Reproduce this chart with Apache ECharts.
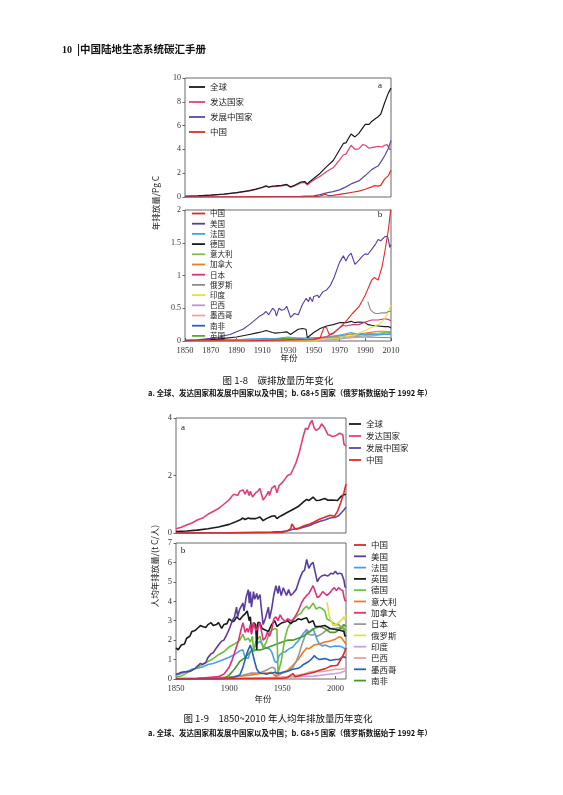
<!DOCTYPE html>
<html>
<head>
    <meta charset="UTF-8">
    <title>碳排放量历年变化</title>
    <script src="https://cdn.jsdelivr.net/npm/echarts@6/dist/echarts.min.js"></script>
    <style>
        body { margin: 0; background: #fff; }
        #page { width: 563px; height: 795px; }
    </style>
</head>
<body>
<div id="page"></div>
<script>
// ===== 图 1-8 a：全球、发达国家、发展中国家、中国（Pg C）=====
var a1Names = ['全球', '发达国家', '发展中国家', '中国'];
var a1Colors = ['#1a1a1a', '#e0407a', '#5a4aa0', '#e02a2a'];
var a1Global = [[1850,0.05],[1860,0.09],[1870,0.15],[1880,0.24],[1890,0.36],[1900,0.53],[1905,0.66],[1910,0.82],[1913,0.94],[1915,0.84],[1918,0.92],[1920,0.93],[1925,0.98],[1929,1.06],[1932,0.86],[1935,0.98],[1940,1.26],[1943,1.3],[1945,1.1],[1947,1.3],[1950,1.55],[1955,2.0],[1960,2.55],[1965,3.05],[1967,3.4],[1970,3.95],[1973,4.5],[1975,4.55],[1979,5.3],[1982,5.05],[1985,5.35],[1990,6.1],[1993,6.1],[1995,6.35],[1998,6.6],[2000,6.75],[2002,6.95],[2005,7.9],[2008,8.75],[2009,8.6],[2010,9.15]];
var a1Developed = [[1850,0.05],[1860,0.09],[1870,0.15],[1880,0.23],[1890,0.35],[1900,0.51],[1905,0.63],[1910,0.78],[1913,0.9],[1915,0.8],[1918,0.88],[1920,0.88],[1925,0.93],[1929,1.01],[1932,0.8],[1935,0.92],[1940,1.18],[1943,1.22],[1945,1.0],[1947,1.2],[1950,1.42],[1955,1.75],[1960,2.15],[1965,2.45],[1970,3.1],[1973,3.55],[1975,3.6],[1979,4.35],[1982,4.0],[1985,4.05],[1988,4.4],[1990,4.35],[1993,4.1],[1995,4.15],[2000,4.25],[2003,4.2],[2005,4.35],[2007,4.4],[2008,4.38],[2009,4.0],[2010,3.98]];
var a1Developing = [[1850,0],[1900,0.02],[1920,0.04],[1940,0.06],[1950,0.1],[1955,0.2],[1960,0.35],[1965,0.45],[1970,0.6],[1975,0.85],[1980,1.15],[1985,1.35],[1990,1.8],[1995,2.3],[1998,2.5],[2000,2.6],[2003,3.1],[2005,3.45],[2008,4.1],[2010,4.75]];
var a1China = [[1850,0],[1900,0.01],[1950,0.02],[1955,0.08],[1959,0.23],[1961,0.12],[1965,0.13],[1970,0.22],[1975,0.3],[1980,0.4],[1985,0.5],[1990,0.65],[1995,0.85],[1997,0.95],[2000,0.92],[2002,0.98],[2005,1.5],[2008,1.8],[2010,2.25]];

// ===== 图 1-8 b：G8+5 国家（Pg C）=====
var b1Names = ['中国', '美国', '法国', '德国', '意大利', '加拿大', '日本', '俄罗斯', '印度', '巴西', '墨西哥', '南非', '英国'];
var b1Colors = ['#e02a2a', '#5a3d9e', '#4aa0e6', '#1a1a1a', '#7cc04a', '#f07a1c', '#e0307a', '#8c8c8c', '#e6e23a', '#b898dc', '#eea4a0', '#2a62b0', '#5aa83c'];
var b1China = [[1850,0],[1900,0.005],[1950,0.02],[1955,0.05],[1958,0.21],[1960,0.2],[1962,0.1],[1965,0.12],[1970,0.2],[1975,0.3],[1980,0.42],[1985,0.52],[1990,0.7],[1995,0.93],[1997,0.97],[2000,0.93],[2003,1.13],[2005,1.34],[2008,1.7],[2010,2.05]];
var b1Usa = [[1850,0.01],[1860,0.02],[1870,0.04],[1875,0.05],[1880,0.08],[1885,0.1],[1890,0.14],[1895,0.18],[1900,0.25],[1905,0.33],[1908,0.38],[1910,0.4],[1913,0.45],[1915,0.4],[1918,0.5],[1920,0.46],[1921,0.38],[1923,0.5],[1925,0.47],[1927,0.48],[1929,0.53],[1932,0.36],[1935,0.42],[1938,0.4],[1941,0.55],[1944,0.65],[1946,0.6],[1947,0.67],[1949,0.6],[1950,0.68],[1953,0.7],[1954,0.66],[1957,0.75],[1958,0.72],[1960,0.78],[1963,0.85],[1966,0.98],[1970,1.2],[1973,1.3],[1975,1.22],[1977,1.3],[1979,1.34],[1982,1.17],[1985,1.23],[1988,1.3],[1990,1.33],[1992,1.32],[1995,1.4],[1998,1.48],[2000,1.55],[2002,1.53],[2005,1.59],[2007,1.6],[2008,1.55],[2009,1.43],[2010,1.47]];
var b1France = [[1850,0.01],[1870,0.015],[1890,0.02],[1900,0.03],[1913,0.04],[1918,0.03],[1925,0.05],[1930,0.06],[1935,0.05],[1944,0.03],[1950,0.05],[1960,0.06],[1970,0.09],[1975,0.11],[1979,0.13],[1985,0.1],[1990,0.1],[2000,0.1],[2010,0.1]];
var b1Germany = [[1850,0.005],[1860,0.01],[1870,0.02],[1880,0.04],[1890,0.06],[1900,0.1],[1905,0.12],[1910,0.14],[1913,0.16],[1918,0.13],[1920,0.12],[1925,0.13],[1929,0.14],[1932,0.1],[1935,0.14],[1938,0.18],[1941,0.19],[1944,0.18],[1945,0.05],[1946,0.05],[1950,0.13],[1955,0.19],[1960,0.23],[1965,0.25],[1970,0.28],[1975,0.28],[1979,0.3],[1982,0.28],[1985,0.29],[1990,0.28],[1992,0.25],[1995,0.24],[2000,0.23],[2005,0.22],[2008,0.22],[2010,0.2]];
var b1Italy = [[1850,0],[1900,0.005],[1930,0.01],[1950,0.01],[1960,0.03],[1970,0.08],[1980,0.1],[1990,0.11],[2000,0.12],[2005,0.13],[2010,0.11]];
var b1Canada = [[1850,0],[1900,0.005],[1930,0.02],[1950,0.03],[1960,0.05],[1970,0.08],[1980,0.11],[1990,0.12],[2000,0.15],[2005,0.15],[2010,0.14]];
var b1Japan = [[1850,0],[1900,0.005],[1930,0.02],[1940,0.03],[1945,0.01],[1950,0.03],[1955,0.05],[1960,0.07],[1965,0.11],[1970,0.2],[1973,0.24],[1975,0.23],[1980,0.25],[1985,0.25],[1990,0.29],[1995,0.32],[2000,0.32],[2005,0.34],[2008,0.33],[2009,0.3],[2010,0.31]];
var b1Russia = [[1992,0.6],[1994,0.48],[1996,0.44],[1998,0.42],[2000,0.42],[2003,0.43],[2006,0.43],[2008,0.45],[2009,0.42],[2010,0.45]];
var b1India = [[1850,0],[1900,0.003],[1930,0.007],[1950,0.01],[1960,0.03],[1970,0.05],[1980,0.08],[1985,0.12],[1990,0.16],[1995,0.21],[2000,0.25],[2003,0.29],[2005,0.34],[2008,0.45],[2010,0.55]];
var b1Brazil = [[1850,0],[1950,0.005],[1960,0.01],[1970,0.03],[1980,0.05],[1990,0.06],[2000,0.09],[2010,0.11]];
var b1Mexico = [[1850,0],[1920,0.005],[1950,0.01],[1960,0.02],[1970,0.03],[1980,0.07],[1990,0.09],[2000,0.1],[2010,0.12]];
var b1SAfrica = [[1850,0],[1900,0.003],[1920,0.006],[1950,0.02],[1960,0.03],[1970,0.05],[1980,0.07],[1990,0.09],[2000,0.1],[2010,0.13]];
var b1Uk = [[1850,0.01],[1880,0.02],[1910,0.03],[1930,0.04],[1950,0.05],[1970,0.06],[1990,0.06],[2010,0.05]];

// ===== 图 1-9 a：人均（t C/人）=====
var a2Names = ['全球', '发达国家', '发展中国家', '中国'];
var a2Colors = ['#1a1a1a', '#e0407a', '#5a4aa0', '#e02a2a'];
var a2Global = [[1850,0.05],[1860,0.07],[1870,0.1],[1880,0.15],[1890,0.21],[1900,0.3],[1905,0.37],[1910,0.45],[1913,0.52],[1915,0.47],[1918,0.52],[1920,0.5],[1925,0.5],[1929,0.56],[1932,0.43],[1935,0.5],[1940,0.58],[1943,0.6],[1945,0.5],[1947,0.56],[1950,0.62],[1955,0.72],[1960,0.82],[1965,0.92],[1970,1.08],[1973,1.17],[1975,1.13],[1979,1.25],[1982,1.13],[1985,1.14],[1990,1.2],[1993,1.14],[1995,1.15],[2000,1.14],[2002,1.13],[2005,1.26],[2008,1.33],[2010,1.35]];
var a2Developed = [[1850,0.15],[1855,0.2],[1860,0.28],[1865,0.35],[1870,0.45],[1875,0.52],[1880,0.65],[1885,0.75],[1890,0.85],[1895,1.0],[1900,1.15],[1903,1.3],[1905,1.35],[1908,1.3],[1910,1.45],[1913,1.5],[1915,1.35],[1917,1.5],[1919,1.3],[1920,1.45],[1922,1.25],[1925,1.4],[1927,1.45],[1929,1.55],[1932,1.15],[1935,1.3],[1937,1.45],[1938,1.3],[1940,1.55],[1943,1.65],[1945,1.4],[1947,1.65],[1950,1.75],[1953,1.9],[1955,2.0],[1958,2.05],[1960,2.2],[1963,2.45],[1966,2.8],[1968,3.1],[1970,3.4],[1972,3.65],[1974,3.6],[1976,3.8],[1978,3.92],[1980,3.65],[1982,3.57],[1985,3.65],[1987,3.8],[1988,3.85],[1990,3.65],[1993,3.42],[1995,3.4],[1997,3.35],[2000,3.38],[2004,3.47],[2007,3.42],[2008,3.1],[2010,3.02]];
var a2Developing = [[1850,0],[1900,0.01],[1940,0.03],[1950,0.05],[1955,0.08],[1960,0.13],[1965,0.15],[1970,0.2],[1975,0.25],[1980,0.33],[1985,0.4],[1990,0.45],[1995,0.52],[2000,0.55],[2003,0.6],[2005,0.68],[2008,0.8],[2010,0.9]];
var a2China = [[1850,0],[1900,0.005],[1950,0.02],[1955,0.08],[1958,0.15],[1959,0.32],[1960,0.28],[1962,0.14],[1965,0.16],[1970,0.24],[1975,0.3],[1980,0.38],[1985,0.48],[1990,0.55],[1995,0.62],[1999,0.58],[2002,0.75],[2005,1.05],[2008,1.4],[2010,1.7]];

// ===== 图 1-9 b：G8+5 国家人均（t C/人）=====
var b2Names = ['中国', '美国', '法国', '英国', '德国', '意大利', '加拿大', '日本', '俄罗斯', '印度', '巴西', '墨西哥', '南非'];
var b2Colors = ['#e02a2a', '#5a3d9e', '#4aa0e6', '#1a1a1a', '#6cbf3a', '#f07a1c', '#e0307a', '#999999', '#e0e040', '#c8a0e0', '#e6a2a0', '#2a62b0', '#4a9a30'];
var b2China = [[1850,0],[1900,0.005],[1950,0.03],[1955,0.08],[1958,0.2],[1959,0.3],[1960,0.28],[1962,0.12],[1965,0.15],[1970,0.22],[1975,0.28],[1980,0.35],[1985,0.45],[1990,0.52],[1995,0.65],[1997,0.68],[2000,0.68],[2002,0.72],[2005,1.0],[2008,1.3],[2010,1.6]];
var b2Usa = [[1850,0.25],[1853,0.3],[1855,0.35],[1860,0.38],[1863,0.4],[1865,0.45],[1868,0.55],[1870,0.65],[1873,0.8],[1875,0.75],[1878,0.85],[1880,1.1],[1883,1.3],[1885,1.35],[1888,1.6],[1890,1.75],[1893,1.95],[1895,2.0],[1897,2.2],[1900,2.55],[1903,3.0],[1905,3.2],[1907,3.7],[1908,3.2],[1910,3.6],[1913,3.9],[1914,3.5],[1916,4.2],[1918,4.6],[1919,3.9],[1920,4.5],[1921,3.7],[1923,4.5],[1924,4.1],[1926,4.4],[1927,4.1],[1929,4.35],[1930,3.8],[1932,2.8],[1934,3.1],[1936,3.5],[1937,3.7],[1938,3.1],[1940,3.6],[1942,4.3],[1944,4.8],[1946,4.4],[1947,4.8],[1949,4.3],[1951,4.7],[1954,4.3],[1956,4.6],[1958,4.3],[1960,4.4],[1963,4.6],[1966,5.1],[1969,5.5],[1971,5.6],[1973,6.15],[1975,5.7],[1977,5.9],[1979,6.0],[1981,5.5],[1983,5.0],[1985,5.2],[1987,5.3],[1990,5.35],[1993,5.3],[1996,5.45],[1998,5.4],[2000,5.55],[2002,5.4],[2004,5.45],[2006,5.4],[2008,5.1],[2009,4.75],[2010,4.7]];
var b2France = [[1850,0.2],[1855,0.28],[1860,0.38],[1865,0.5],[1870,0.55],[1875,0.62],[1880,0.75],[1885,0.8],[1890,0.9],[1895,1.0],[1900,1.12],[1905,1.25],[1910,1.45],[1913,1.5],[1915,1.1],[1918,1.05],[1920,1.4],[1923,1.6],[1926,1.8],[1929,1.95],[1932,1.7],[1935,1.6],[1938,1.55],[1940,1.4],[1943,0.9],[1945,0.85],[1947,1.2],[1950,1.35],[1953,1.4],[1955,1.5],[1958,1.6],[1960,1.65],[1963,1.85],[1965,1.95],[1968,2.2],[1970,2.35],[1973,2.55],[1975,2.4],[1979,2.6],[1981,2.3],[1983,2.0],[1985,1.8],[1988,1.7],[1990,1.75],[1995,1.65],[2000,1.7],[2005,1.68],[2008,1.6],[2010,1.5]];
var b2Uk = [[1850,1.6],[1852,1.5],[1855,1.75],[1858,1.8],[1860,2.1],[1863,2.2],[1865,2.45],[1868,2.5],[1870,2.6],[1873,2.75],[1875,2.7],[1878,2.65],[1880,2.8],[1883,2.9],[1885,2.75],[1888,2.8],[1890,2.9],[1893,2.6],[1895,2.8],[1898,2.85],[1900,3.1],[1903,2.95],[1905,3.0],[1907,3.2],[1910,3.05],[1913,3.25],[1915,3.35],[1917,3.5],[1919,3.0],[1920,3.2],[1921,2.4],[1923,2.9],[1925,2.8],[1926,1.5],[1927,2.9],[1929,2.9],[1931,2.6],[1933,2.55],[1935,2.5],[1937,2.45],[1940,2.8],[1943,3.0],[1945,2.7],[1947,2.8],[1950,2.9],[1953,2.95],[1955,3.0],[1958,2.85],[1960,2.95],[1963,3.0],[1965,3.1],[1968,3.05],[1970,3.1],[1973,3.15],[1975,2.9],[1979,3.0],[1981,2.7],[1985,2.7],[1990,2.75],[1995,2.6],[2000,2.55],[2005,2.5],[2008,2.45],[2009,2.2],[2010,2.25]];
var b2Germany = [[1850,0.1],[1855,0.15],[1860,0.3],[1865,0.45],[1870,0.6],[1875,0.75],[1880,0.9],[1885,1.05],[1890,1.25],[1895,1.4],[1900,1.65],[1905,1.8],[1910,2.0],[1913,2.3],[1915,2.0],[1918,2.1],[1920,1.9],[1922,2.2],[1923,1.4],[1925,1.9],[1929,2.2],[1932,1.6],[1935,1.9],[1938,2.4],[1940,2.5],[1943,2.6],[1945,2.55],[1946,0.3],[1947,0.4],[1949,0.9],[1951,1.6],[1953,2.2],[1955,2.6],[1958,2.9],[1960,3.0],[1963,3.2],[1965,3.3],[1968,3.4],[1970,3.6],[1973,3.75],[1975,3.6],[1977,3.75],[1979,3.9],[1982,3.6],[1985,3.7],[1988,3.6],[1990,3.5],[1992,3.1],[1995,3.0],[2000,2.8],[2003,2.8],[2005,2.7],[2008,2.65],[2009,2.45],[2010,2.55]];
var b2Italy = [[1850,0.01],[1870,0.03],[1890,0.07],[1900,0.1],[1910,0.15],[1920,0.2],[1925,0.25],[1930,0.28],[1935,0.3],[1940,0.35],[1944,0.12],[1947,0.25],[1950,0.3],[1955,0.45],[1960,0.7],[1965,1.0],[1970,1.4],[1973,1.6],[1975,1.55],[1980,1.75],[1985,1.8],[1990,1.9],[1995,1.95],[2000,2.05],[2004,2.18],[2006,2.1],[2008,1.95],[2010,1.78]];
var b2Canada = [[1850,0.02],[1870,0.04],[1880,0.08],[1890,0.12],[1895,0.25],[1900,0.6],[1903,1.0],[1906,1.5],[1909,2.0],[1911,2.5],[1913,2.9],[1915,2.4],[1917,2.6],[1918,2.4],[1920,2.8],[1921,2.3],[1923,2.9],[1925,2.5],[1927,2.6],[1929,2.9],[1932,2.0],[1934,2.1],[1936,2.4],[1938,2.2],[1940,2.5],[1942,3.1],[1944,3.2],[1946,3.0],[1948,3.3],[1950,3.1],[1953,2.95],[1955,3.1],[1958,3.0],[1960,3.05],[1963,3.3],[1965,3.5],[1968,3.9],[1970,4.1],[1973,4.3],[1975,4.4],[1977,4.6],[1979,4.8],[1981,4.5],[1983,4.2],[1985,4.25],[1988,4.5],[1990,4.4],[1992,4.3],[1995,4.45],[1997,4.6],[1999,4.7],[2001,4.55],[2003,4.7],[2005,4.6],[2007,4.55],[2008,4.25],[2009,4.05],[2010,4.0]];
var b2Japan = [[1850,0],[1880,0.01],[1890,0.03],[1900,0.08],[1910,0.15],[1920,0.3],[1925,0.3],[1930,0.35],[1935,0.45],[1940,0.6],[1943,0.55],[1945,0.15],[1947,0.2],[1950,0.3],[1955,0.4],[1960,0.6],[1963,0.9],[1966,1.3],[1968,1.7],[1970,2.0],[1973,2.45],[1975,2.3],[1978,2.25],[1980,2.3],[1983,2.2],[1985,2.25],[1988,2.35],[1990,2.45],[1993,2.55],[1996,2.6],[2000,2.6],[2004,2.65],[2007,2.6],[2008,2.5],[2009,2.35],[2010,2.4]];
var b2Russia = [[1992,3.95],[1993,3.7],[1994,3.3],[1995,3.1],[1996,3.0],[1998,2.75],[1999,2.8],[2000,2.8],[2002,2.85],[2004,2.95],[2006,3.05],[2008,3.2],[2009,3.05],[2010,3.3]];
var b2India = [[1850,0],[1900,0.02],[1920,0.04],[1940,0.05],[1950,0.06],[1960,0.1],[1970,0.13],[1980,0.15],[1990,0.22],[2000,0.28],[2005,0.32],[2010,0.45]];
var b2Brazil = [[1850,0],[1900,0.02],[1920,0.05],[1940,0.07],[1950,0.1],[1960,0.15],[1970,0.25],[1975,0.35],[1980,0.4],[1985,0.38],[1990,0.4],[1995,0.45],[2000,0.5],[2005,0.5],[2010,0.55]];
var b2Mexico = [[1850,0],[1890,0.02],[1900,0.05],[1905,0.1],[1910,0.2],[1913,0.6],[1916,1.2],[1918,1.5],[1920,1.75],[1921,1.7],[1922,1.35],[1924,0.9],[1926,0.5],[1928,0.35],[1930,0.3],[1933,0.28],[1935,0.25],[1938,0.3],[1940,0.3],[1943,0.35],[1945,0.3],[1948,0.3],[1950,0.35],[1955,0.4],[1960,0.5],[1965,0.55],[1968,0.65],[1970,0.75],[1975,0.9],[1978,1.05],[1980,1.2],[1982,1.1],[1985,1.0],[1990,1.05],[1993,1.0],[1995,0.95],[2000,1.0],[2003,1.0],[2006,1.1],[2008,1.15],[2010,1.08]];
var b2SAfrica = [[1850,0],[1895,0.02],[1900,0.2],[1905,0.5],[1910,0.9],[1915,1.1],[1920,1.4],[1925,1.5],[1930,1.5],[1935,1.6],[1940,1.7],[1945,1.8],[1950,1.9],[1955,2.0],[1960,2.0],[1965,2.1],[1970,2.2],[1975,2.4],[1980,2.6],[1985,2.7],[1990,2.6],[1995,2.4],[2000,2.4],[2005,2.6],[2008,2.8],[2010,2.7]];

// 坐标轴刻度
var yearTicks1 = 20;   // 图 1-8 横轴间隔
var yearTicks2 = 50;   // 图 1-9 横轴间隔

var a1Data = [a1Global, a1Developed, a1Developing, a1China];
var b1Data = [b1China, b1Usa, b1France, b1Germany, b1Italy, b1Canada, b1Japan, b1Russia, b1India, b1Brazil, b1Mexico, b1SAfrica, b1Uk];
var a2Data = [a2Global, a2Developed, a2Developing, a2China];
var b2Data = [b2China, b2Usa, b2France, b2Uk, b2Germany, b2Italy, b2Canada, b2Japan, b2Russia, b2India, b2Brazil, b2Mexico, b2SAfrica];

var serif = '"Liberation Serif", "DejaVu Serif", serif';
var cjk = '"Noto Sans CJK SC", sans-serif';

// 同名系列在不同面板颜色不同，用零宽字符区分
function tag(name, idx) {
    return name + new Array(idx + 1).join('\u200b');
}

var series = [];
function addPanel(names, colors, datas, gi, width, order) {
    var legendNames = [];
    names.forEach(function(n, i) {
        legendNames.push(tag(n, gi));
    });
    (order || names.map(function(_, i) { return i; })).forEach(function(i) {
        series.push({
            name: tag(names[i], gi),
            type: 'line',
            xAxisIndex: gi,
            yAxisIndex: gi,
            data: datas[i],
            showSymbol: false,
            symbol: 'none',
            clip: true,
            lineStyle: { color: colors[i], width: width },
            itemStyle: { color: colors[i] }
        });
    });
    return legendNames;
}

var leg0 = addPanel(a1Names, a1Colors, a1Data, 0, 1.2, [1, 0, 2, 3]);
var leg1 = addPanel(b1Names, b1Colors, b1Data, 1, 1.1, [12, 11, 10, 9, 4, 5, 2, 3, 6, 8, 7, 1, 0]);
var leg2 = addPanel(a2Names, a2Colors, a2Data, 2, 1.6);
var leg3 = addPanel(b2Names, b2Colors, b2Data, 3, 1.6, [9, 10, 5, 7, 2, 12, 4, 3, 6, 1, 11, 8, 0]);

function xAx(gi, interval, showLabel) {
    return {
        type: 'value', gridIndex: gi, min: 1850, max: 2010, interval: interval,
        axisLine: { show: false },
        axisTick: { show: showLabel, inside: true, length: 3, lineStyle: { color: '#444', width: 0.8 } },
        axisLabel: {
            show: showLabel, margin: 5, fontSize: 8.5, color: '#333', fontFamily: serif,
            showMaxLabel: interval === 20,
            formatter: function(v) { return String(v); }
        },
        splitLine: { show: false }
    };
}
function yAx(gi, max, interval, fs) {
    return {
        type: 'value', gridIndex: gi, min: 0, max: max, interval: interval,
        axisLine: { show: false },
        axisTick: { show: true, length: 2.5, lineStyle: { color: '#444', width: 0.8 } },
        axisLabel: { margin: 4, fontSize: fs, color: '#333', fontFamily: serif },
        splitLine: { show: false }
    };
}

function legendBox(names, left, top, iw, fs, lh, gap) {
    return {
        data: names, left: left, top: top, orient: 'vertical',
        icon: 'rect', itemWidth: iw, itemHeight: 1.8, itemGap: gap,
        selectedMode: false, padding: 0,
        formatter: function(n) { return n.replace(/\u200b/g, ''); },
        textStyle: { fontSize: fs, lineHeight: lh, color: '#222', fontFamily: cjk }
    };
}

var gridStyle = { show: true, borderColor: '#444', borderWidth: 0.8, backgroundColor: 'transparent' };

var option = {
    animation: false,
    backgroundColor: '#fff',
    grid: [
        Object.assign({ left: 185, top: 78, width: 206, height: 119 }, gridStyle),
        Object.assign({ left: 185, top: 210, width: 206, height: 131 }, gridStyle),
        Object.assign({ left: 176, top: 418, width: 170, height: 115 }, gridStyle),
        Object.assign({ left: 176, top: 543, width: 170, height: 136 }, gridStyle)
    ],
    xAxis: [xAx(0, yearTicks1, false), xAx(1, yearTicks1, true), xAx(2, yearTicks2, false), xAx(3, yearTicks2, true)],
    yAxis: [yAx(0, 10, 2, 8), yAx(1, 2, 0.5, 8), yAx(2, 4, 2, 8.5), yAx(3, 7, 1, 8.5)],
    legend: [
        legendBox(leg0, 189, 82, 16, 8.5, 10, 5),
        legendBox(leg1, 192, 209, 13, 7.5, 9, 1.2),
        legendBox(leg2, 349, 419, 12, 8.5, 10, 2),
        legendBox(leg3, 354, 540, 12, 8.5, 10, 1.3)
    ],
    series: series,
    graphic: [
        { type: 'text', left: 62, top: 45, style: { text: '10', font: 'bold 10px ' + serif, fill: '#111' } },
        { type: 'text', left: 77, top: 44, style: { text: '|中国陆地生态系统碳汇手册', font: 'bold 10.5px ' + cjk, fill: '#111' } },

        { type: 'text', x: 380, y: 86, style: { text: 'a', font: '9px ' + serif, fill: '#222', align: 'center', verticalAlign: 'middle' } },
        { type: 'text', x: 380, y: 215, style: { text: 'b', font: '9px ' + serif, fill: '#222', align: 'center', verticalAlign: 'middle' } },
        { type: 'text', x: 183, y: 428, style: { text: 'a', font: '9px ' + serif, fill: '#222', align: 'center', verticalAlign: 'middle' } },
        { type: 'text', x: 183, y: 551, style: { text: 'b', font: '9px ' + serif, fill: '#222', align: 'center', verticalAlign: 'middle' } },

        { type: 'text', x: 156, y: 203, rotation: Math.PI / 2, style: { text: '年排放量/Pg C', font: '8.5px ' + cjk, fill: '#222', align: 'center', verticalAlign: 'middle' } },
        { type: 'text', x: 155, y: 566, rotation: Math.PI / 2, style: { text: '人均年排放量/(t C/人)', font: '8.5px ' + cjk, fill: '#222', align: 'center', verticalAlign: 'middle' } },

        { type: 'text', x: 289, y: 358, style: { text: '年份', font: '8.5px ' + cjk, fill: '#222', align: 'center', verticalAlign: 'middle' } },
        { type: 'text', x: 263, y: 699, style: { text: '年份', font: '8.5px ' + cjk, fill: '#222', align: 'center', verticalAlign: 'middle' } },

        { type: 'text', x: 278, y: 380, style: { text: '图 1-8　碳排放量历年变化', font: '9.5px ' + cjk, fill: '#111', align: 'center', verticalAlign: 'middle' } },
        { type: 'text', x: 290, y: 393, style: { text: 'a. 全球、发达国家和发展中国家以及中国；b. G8+5 国家（俄罗斯数据始于 1992 年）', font: 'bold 7.5px ' + cjk, fill: '#111', align: 'center', verticalAlign: 'middle' } },
        { type: 'text', x: 278, y: 718, style: { text: '图 1-9　1850~2010 年人均年排放量历年变化', font: '9.5px ' + cjk, fill: '#111', align: 'center', verticalAlign: 'middle' } },
        { type: 'text', x: 290, y: 733, style: { text: 'a. 全球、发达国家和发展中国家以及中国；b. G8+5 国家（俄罗斯数据始于 1992 年）', font: 'bold 7.5px ' + cjk, fill: '#111', align: 'center', verticalAlign: 'middle' } }
    ]
};

var chart = echarts.init(document.getElementById('page'), null, { renderer: 'canvas' });
chart.setOption(option);
</script>
</body>
</html>
